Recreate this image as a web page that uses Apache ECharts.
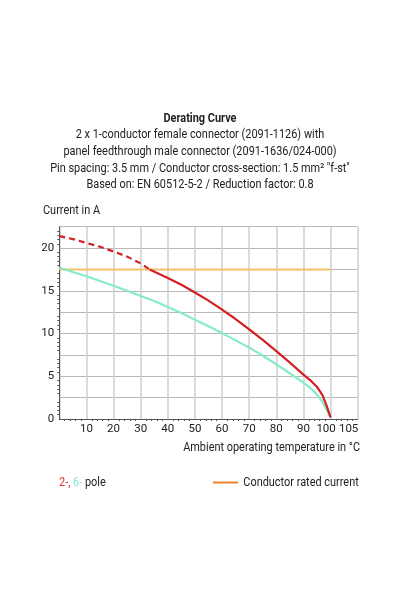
<!DOCTYPE html>
<html>
<head>
<meta charset="utf-8">
<script src="https://cdn.jsdelivr.net/npm/echarts@6/dist/echarts.min.js"></script>
<style>
html,body{margin:0;padding:0;background:#fff;}
#c{width:400px;height:600px;}
</style>
</head>
<body>
<div id="c"></div>
<script>
var titleLines = [
  'Derating Curve',
  '2 x 1-conductor female connector (2091-1126) with',
  'panel feedthrough male connector (2091-1636/024-000)',
  'Pin spacing: 3.5 mm / Conductor cross-section: 1.5 mm\u00B2 "f-st"',
  'Based on: EN 60512-5-2 / Reduction factor: 0.8'
];
var yAxisName = 'Current in A';
var xAxisName = 'Ambient operating temperature in \u00B0C';
var legendPole = ['2-,', '6-', 'pole'];
var legendRated = 'Conductor rated current';

var redDashed = [[0,21.4],[5,21.05],[10,20.6],[15,20.15],[20,19.6],[25,19.0],[30,18.2],[33.3,17.5]];
var redSolid = [[33.3,17.5],[40,16.5],[45,15.7],[50,14.8],[55,13.85],[60,12.8],[65,11.7],[70,10.5],[75,9.25],[80,7.95],[85,6.6],[90,5.2],[93,4.4],[95,3.75],[97,2.8],[98.5,1.6],[100,0.2]];
var green = [[0,17.7],[5,17.2],[10,16.7],[15,16.15],[20,15.6],[25,15.0],[30,14.4],[35,13.8],[40,13.1],[45,12.4],[50,11.6],[55,10.85],[60,10.05],[65,9.2],[70,8.35],[75,7.4],[80,6.4],[85,5.35],[90,4.25],[93,3.5],[95,2.85],[97,2.0],[100,0.2]];
var rated = [[0,17.5],[100,17.5]];
var extraXTick = 105;

var FONT = 'Roboto, sans-serif';
var SX = 0.84;
var chart = echarts.init(document.getElementById('c'));

function txt(t, x, y, align, bold, extra) {
  var st = { text: t, font: (bold ? 'bold ' : '') + '13px ' + FONT, fill: '#222', align: align, verticalAlign: 'middle' };
  if (extra) { for (var k in extra) st[k] = extra[k]; }
  return { type: 'text', x: x, y: y, scaleX: SX, originX: 0, style: st };
}

var titleGraphics = titleLines.map(function(t, i){
  return txt(t, 200, 118.3 + i*16.7, 'center', i === 0);
});

chart.setOption({
  animation: false,
  grid: { left: 59.3, right: 42.3, top: 226.7, bottom: 181, containLabel: false },
  xAxis: [{
    type: 'value', min: 0, max: 110, interval: 10,
    axisLine: { show: true, lineStyle: { color: '#555', width: 1 } },
    axisTick: { show: false },
    minorTick: { show: true, splitNumber: 5, length: 2, lineStyle: { color: '#555' } },
    splitLine: { show: true, lineStyle: { color: '#cfcfcf', width: 1.5 } },
    axisLabel: { color: '#222', fontFamily: FONT, fontSize: 11.5, margin: 4,
      formatter: function(v){ return (v === 0 || v === 100 || v === 110) ? '' : String(v); } }
  }, {
    type: 'value', min: 0, max: 110, interval: 5, position: 'bottom',
    axisLine: { show: false }, axisTick: { show: false }, splitLine: { show: false },
    axisLabel: { color: '#222', fontFamily: FONT, fontSize: 11.5, margin: 4,
      formatter: function(v){
        if (v === 100) return '{l|100}';
        if (v === extraXTick) return '{r|' + v + '}';
        return '';
      },
      rich: {
        l: { fontFamily: FONT, fontSize: 11.5, color: '#222', padding: [0, 9, 0, 0] },
        r: { fontFamily: FONT, fontSize: 11.5, color: '#222', padding: [0, 0, 0, 9] }
      } }
  }],
  yAxis: {
    type: 'value', min: 0, max: 22.5, interval: 2.5,
    axisLine: { show: true, lineStyle: { color: '#555', width: 1 } },
    axisTick: { show: false },
    minorTick: { show: true, splitNumber: 5, length: 2, lineStyle: { color: '#555' } },
    splitLine: { show: true, lineStyle: { color: '#b8b8b8', width: 1 } },
    axisLabel: { color: '#222', fontFamily: FONT, fontSize: 11.5, margin: 5,
      formatter: function(v){ return (v % 5 === 0) ? String(v) : ''; } }
  },
  series: [
    { type: 'line', data: rated, symbol: 'none', lineStyle: { color: '#f2c26a', width: 2 }, z: 2 },
    { type: 'line', data: green, symbol: 'none', lineStyle: { color: '#86ebc8', width: 2.2, join: 'round' }, z: 3 },
    { type: 'line', data: redDashed, symbol: 'none', lineStyle: { color: '#d42020', width: 2.2, type: [6,4] }, z: 4 },
    { type: 'line', data: redSolid, symbol: 'none', lineStyle: { color: '#d42020', width: 2.2, join: 'round' }, z: 4 }
  ],
  graphic: titleGraphics.concat([
    txt(yAxisName, 43, 211, 'left', false),
    txt(xAxisName, 360, 448, 'right', false),
    txt('{r|' + legendPole[0] + '} {g|' + legendPole[1] + '} {k|' + legendPole[2] + '}', 59, 482.7, 'left', false, {
      rich: { r: { fill: '#e0303a', font: '13px ' + FONT }, g: { fill: '#8fe8cc', font: '13px ' + FONT }, k: { fill: '#222', font: '13px ' + FONT } } }),
    { type: 'line', shape: { x1: 213, y1: 482.5, x2: 238, y2: 482.5 }, style: { stroke: '#f07f2a', lineWidth: 2 } },
    txt(legendRated, 243.3, 482.7, 'left', false)
  ])
});
</script>
</body>
</html>
